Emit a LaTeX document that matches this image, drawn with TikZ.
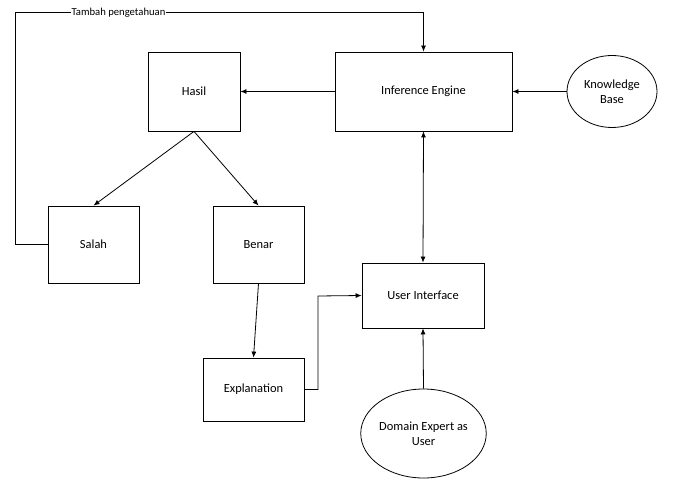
\documentclass[tikz,border=0pt]{standalone}
\usepackage{fontspec}
\setmainfont{Carlito}
\usetikzlibrary{shapes.geometric,arrows.meta}
\begin{document}
\begin{tikzpicture}[x=1bp,y=-1bp,
  box/.style={draw,line width=0.8bp,rectangle,inner sep=0pt,font=\fontsize{12.5}{14}\selectfont,align=center},
  oval/.style={draw,line width=0.8bp,ellipse,inner sep=0pt,font=\fontsize{12.5}{15}\selectfont,align=center},
  conn/.style={line width=0.8bp,-{Latex[length=6bp,width=5bp]}},
  lbl/.style={fill=white,inner sep=1bp,font=\fontsize{10.7}{12}\selectfont}]
\useasboundingbox (0,0) rectangle (685,481);
\node[box,minimum width=92bp,minimum height=79bp] (hasil) at (194,91.5) {Hasil};
\node[box,minimum width=177bp,minimum height=79bp] (ie) at (423.5,91.5) {Inference Engine};
\node[oval,minimum width=90bp,minimum height=72bp] (kb) at (612,91.5) {Knowledge\\Base};
\node[box,minimum width=91bp,minimum height=77bp] (salah) at (93.5,244.5) {Salah};
\node[box,minimum width=91bp,minimum height=77bp] (benar) at (258.5,244.5) {Benar};
\node[box,minimum width=122bp,minimum height=65bp] (ui) at (423,295.5) {User Interface};
\node[box,minimum width=101bp,minimum height=63bp] (expl) at (253.5,389.5) {Explanation};
\node[oval,minimum width=123bp,minimum height=89bp] (de) at (423.5,433.5) {Domain Expert as\\User};
\coordinate (c1) at (318,389.5);
\coordinate (c2) at (318,296);
\coordinate (f1) at (15,244.5);
\coordinate (f2) at (15,12.7);
\coordinate (f3) at (423.5,12.7);
\draw[conn] (ie.west) -- (hasil.east);
\draw[conn] (kb.west) -- (ie.east);
\draw[conn] (hasil.south) -- (salah.north);
\draw[conn] (hasil.south) -- (benar.north);
\draw[conn] (benar.south) -- (expl.north);
\draw[conn] (expl.east) -- (c1) -- (c2) -- (ui.west);
\draw[line width=0.8bp,{Latex[length=6bp,width=5bp]}-{Latex[length=6bp,width=5bp]}] (ie.south) -- (ui.north);
\draw[conn] (de.north) -- (ui.south);
\draw[conn] (salah.west) -- (f1) -- (f2) -- (f3) -- (ie.north);
\node[lbl] (tp) at (118.5,12.7) {Tambah pengetahuan};
\end{tikzpicture}
\end{document}
